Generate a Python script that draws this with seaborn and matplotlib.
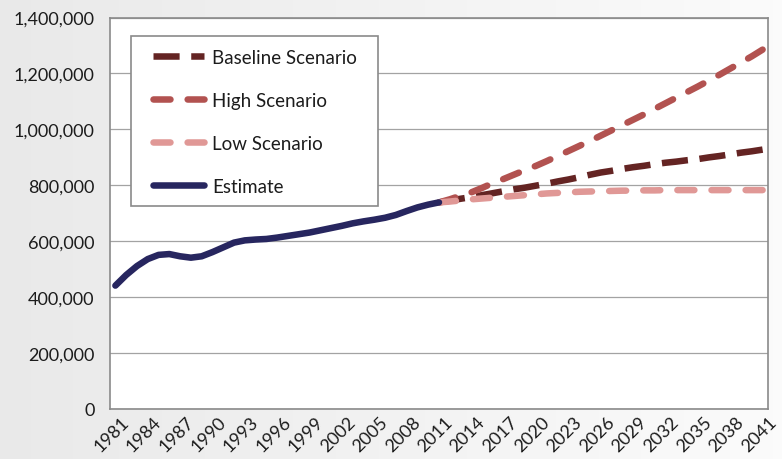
import numpy as np
import pandas as pd
import matplotlib
matplotlib.use("Agg")
import matplotlib.pyplot as plt
import matplotlib.transforms as mtransforms
from matplotlib.patches import Rectangle
from matplotlib.ticker import FuncFormatter
import seaborn as sns

# ---- data (population, persons) ----
est_years = list(range(1981, 2012))
estimate = [440000, 478000, 510000, 535000, 550000, 553000, 545000, 540000, 545000, 560000,
            577000, 594000, 602000, 605000, 607000, 612000, 618000, 624000, 630000, 638000,
            646000, 654000, 663000, 670000, 676000, 683000, 693000, 707000, 720000, 730000,
            738000]

proj_years = list(range(2011, 2042))
baseline = [738000, 744000, 751000, 757000, 764000, 771000, 778000, 785000, 791000, 798000,
            805000, 813000, 820000, 828000, 837000, 845000, 851000, 858000, 864000, 869000,
            875000, 880000, 884000, 889000, 893000, 899000, 904000, 910000, 916000, 921000,
            927000]
high = [738000, 749000, 762000, 774000, 790000, 807000, 822000, 838000, 854000, 869000,
        886000, 904000, 922000, 940000, 958000, 977000, 996000, 1015000, 1034000, 1053000,
        1073000, 1093000, 1113000, 1133000, 1153000, 1174000, 1195000, 1217000, 1239000,
        1261000, 1285000]
low = [738000, 741000, 745000, 749000, 752000, 755000, 758000, 761000, 764000, 767000,
       770000, 772000, 774000, 776000, 777000, 778000, 779000, 780000, 780000, 781000,
       781000, 782000, 782000, 782000, 782000, 782000, 782000, 782000, 782000, 782000,
       782000]

tick_years = list(range(1981, 2042, 3))
y_ticks = [0, 200000, 400000, 600000, 800000, 1000000, 1200000, 1400000]

series_names = ["Baseline Scenario", "High Scenario", "Low Scenario", "Estimate"]
series_colors = ["#642423", "#b25250", "#e09896", "#27265f"]

# ---- style ----
sns.set_theme(style="white")
plt.rcParams["font.family"] = ["Lato", "DejaVu Sans"]
text_color = "#1c1c1c"

fig = plt.figure(figsize=(7.82, 4.60), dpi=100)

# soft grey backdrop, lighter towards the right
bg = fig.add_axes([0, 0, 1, 1], zorder=-10)
grad = np.linspace(0.915, 0.985, 256)[None, :]
bg.imshow(np.dstack([grad, grad, grad]), aspect="auto", extent=[0, 1, 0, 1])
bg.set_axis_off()

ax = fig.add_axes([110 / 782, 1 - 409.5 / 460, 658 / 782, 391 / 460])
ax.set_facecolor("white")
ax.set_xlim(1980.5, 2041.5)
ax.set_ylim(0, 1400000)

lw = 4.7
proj = pd.DataFrame({"year": proj_years, "baseline": baseline, "high": high, "low": low})
est = pd.DataFrame({"year": est_years, "estimate": estimate})

sns.lineplot(data=proj, x="year", y="baseline", ax=ax, color=series_colors[0],
             label=series_names[0])
sns.lineplot(data=proj, x="year", y="high", ax=ax, color=series_colors[1],
             label=series_names[1])
sns.lineplot(data=proj, x="year", y="low", ax=ax, color=series_colors[2],
             label=series_names[2])
sns.lineplot(data=est, x="year", y="estimate", ax=ax, color=series_colors[3],
             label=series_names[3])
ax.set_xlim(1980.5, 2041.5)
ax.set_ylim(0, 1400000)

# line widths first, then dash patterns (in units of line width); the gap is
# stretched slightly so every dashed line finishes on a dash at 2041
styles = [((4.0, 1.8), "butt"), ((2.6, 2.9), "round"), ((2.6, 2.9), "round"), (None, "round")]
px_per_unit = lw * fig.dpi / 72
for line, (dash, cap) in zip(ax.lines, styles):
    line.set_linewidth(lw)
    if dash is None:
        line.set_linestyle("-")
        line.set_solid_capstyle(cap)
        line.set_solid_joinstyle("round")
        continue
    pts = ax.transData.transform(np.column_stack(line.get_data()))
    length = np.sum(np.hypot(*np.diff(pts, axis=0).T))
    on_px = dash[0] * px_per_unit
    period = (dash[0] + dash[1]) * px_per_unit
    n = max(1, round((length - on_px) / period))
    off_px = (length - on_px) / n - on_px
    line.set_linestyle((0, (dash[0], off_px / px_per_unit)))
    line.set_dash_capstyle(cap)

ax.set_xlabel("")
ax.set_ylabel("")

ax.set_yticks(y_ticks)
ax.yaxis.set_major_formatter(FuncFormatter(lambda v, p: f"{int(v):,}"))
ax.set_xticks(tick_years)
ax.set_xticklabels([str(y) for y in tick_years])

ax.grid(axis="y", color="#a3a3a3", lw=0.9)
ax.grid(axis="x", visible=False)
ax.set_axisbelow(True)
for s in ax.spines.values():
    s.set_color("#8a8a8a")
    s.set_linewidth(1.2)

ax.tick_params(axis="y", length=0, pad=11, labelsize=13, labelcolor=text_color)
ax.tick_params(axis="x", length=0, pad=7.5, labelsize=13, labelcolor=text_color)
shift = mtransforms.ScaledTranslation(11 / 100, 0, fig.dpi_scale_trans)
for lab in ax.get_xticklabels():
    lab.set_rotation(45)
    lab.set_ha("right")
    lab.set_va("center")
    lab.set_rotation_mode("anchor")
    lab.set_transform(lab.get_transform() + shift)

# legend with a square frame
handles, labels = ax.get_legend_handles_labels()
if ax.get_legend():
    ax.get_legend().remove()
fig.patches.append(Rectangle((131 / 782, 1 - 207 / 460), 247 / 782, 170 / 460,
                             transform=fig.transFigure, facecolor="white",
                             edgecolor="#8a8a8a", lw=1.2, zorder=5))
leg = fig.legend(handles, labels, loc="upper left",
                 bbox_to_anchor=(153 / 782, 1 - 50 / 460), frameon=False,
                 fontsize=13.5, handlelength=2.7, handletextpad=0.45,
                 labelspacing=1.38, borderpad=0, borderaxespad=0)
leg.set_zorder(6)
for t in leg.get_texts():
    t.set_color(text_color)

fig.savefig("out.png", dpi=100)
